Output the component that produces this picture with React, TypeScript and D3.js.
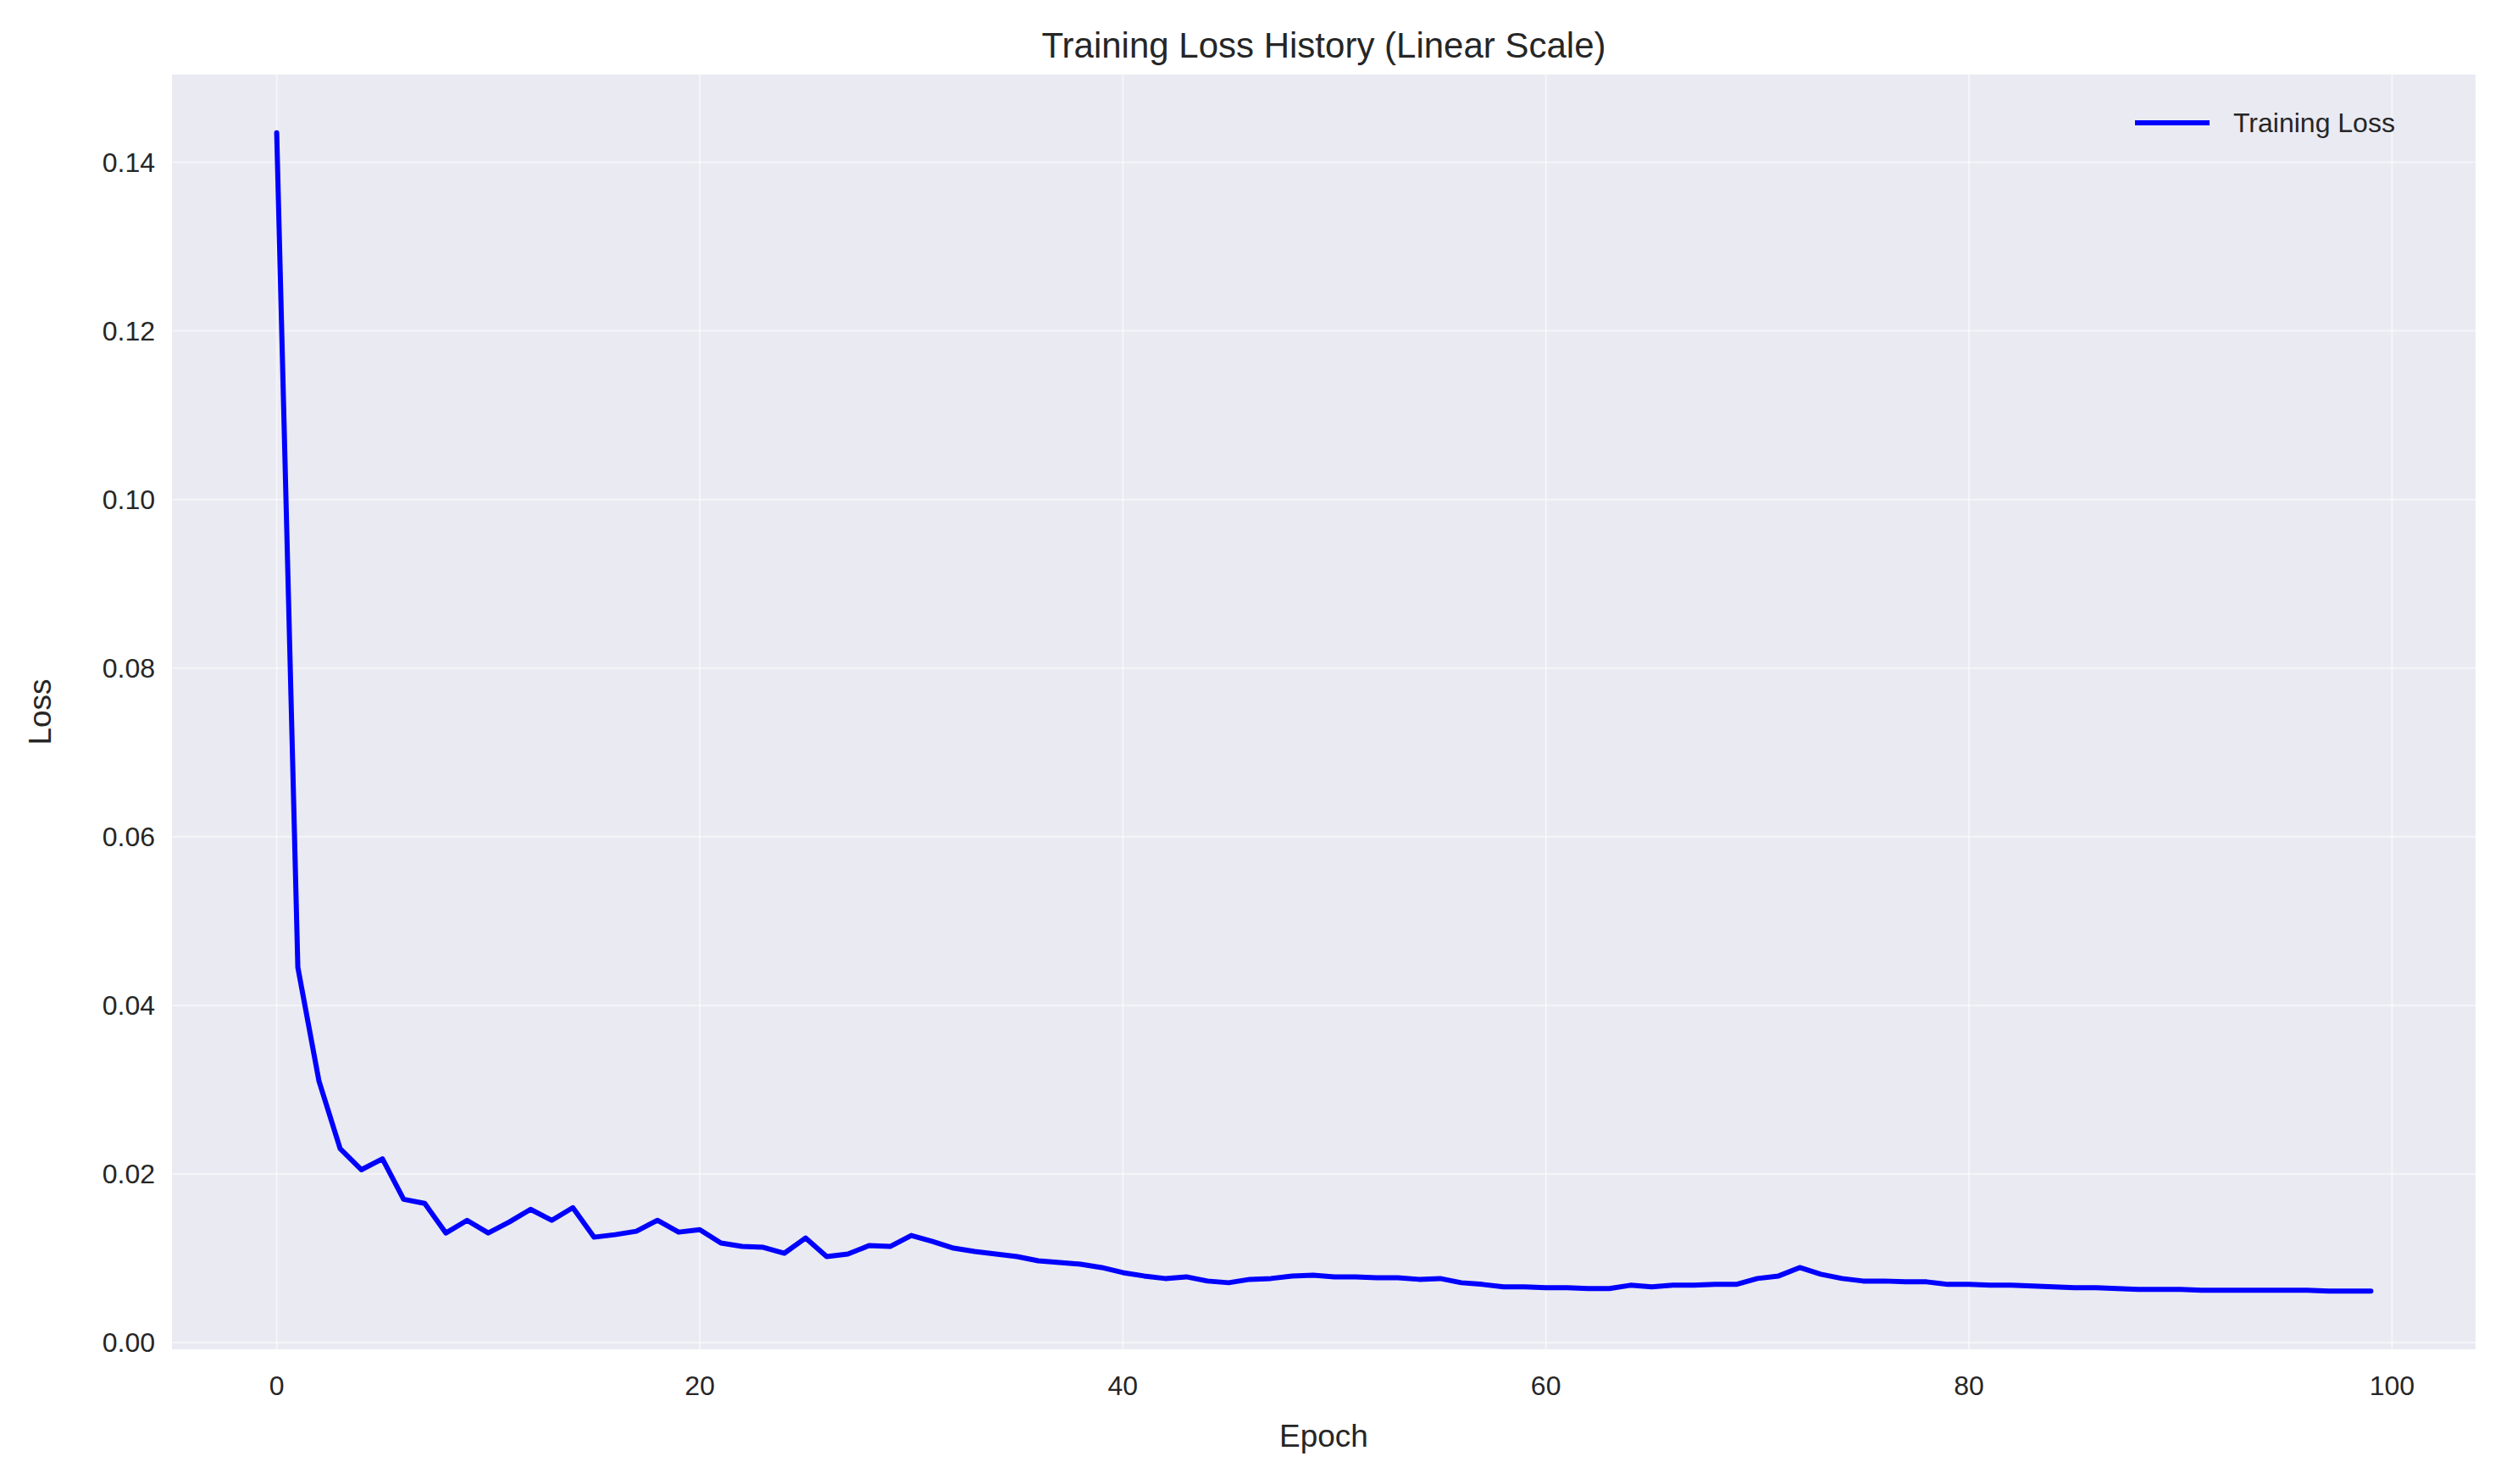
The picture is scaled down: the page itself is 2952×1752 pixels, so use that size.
import React from "react";
import * as d3 from "d3";

const lossValues = [
  0.1435, 0.0445, 0.031, 0.023, 0.0205, 0.0218, 0.017, 0.0165, 0.013, 0.0145,
  0.013, 0.0143, 0.0158, 0.0145, 0.016, 0.0125, 0.0128, 0.0132, 0.0145, 0.0131,
  0.0134, 0.0118, 0.0114, 0.0113, 0.0106, 0.0124, 0.0102, 0.0105, 0.0115, 0.0114,
  0.0127, 0.012, 0.0112, 0.0108, 0.0105, 0.0102, 0.0097, 0.0095, 0.0093, 0.0089,
  0.0083, 0.0079, 0.0076, 0.0078, 0.0073, 0.0071, 0.0075, 0.0076, 0.0079, 0.008,
  0.0078, 0.0078, 0.0077, 0.0077, 0.0075, 0.0076, 0.0071, 0.0069, 0.0066, 0.0066,
  0.0065, 0.0065, 0.0064, 0.0064, 0.0068, 0.0066, 0.0068, 0.0068, 0.0069, 0.0069,
  0.0076, 0.0079, 0.0089, 0.0081, 0.0076, 0.0073, 0.0073, 0.0072, 0.0072, 0.0069,
  0.0069, 0.0068, 0.0068, 0.0067, 0.0066, 0.0065, 0.0065, 0.0064, 0.0063, 0.0063,
  0.0063, 0.0062, 0.0062, 0.0062, 0.0062, 0.0062, 0.0062, 0.0061, 0.0061, 0.0061,
];
const epochs = lossValues.map((_, i) => i);
const xTicks = [0, 20, 40, 60, 80, 100];
const yTicks = [0, 0.02, 0.04, 0.06, 0.08, 0.1, 0.12, 0.14];

const W = 2936;
const H = 1736;
const m = { left: 195, right: 2914, top: 80, bottom: 1585 };
const font = "'Liberation Sans', Arial, sans-serif";

export default function App() {
  const x = d3.scaleLinear().domain([-4.95, 103.95]).range([m.left, m.right]);
  const y = d3.scaleLinear().domain([-0.0008, 0.1504]).range([m.bottom, m.top]);
  const line = d3
    .line<number>()
    .x((_, i) => x(epochs[i]))
    .y((d) => y(d));

  return (
    <svg width={W} height={H} style={{ display: "block", background: "#fff" }} fontFamily={font}>
      <rect x={m.left} y={m.top} width={m.right - m.left} height={m.bottom - m.top} fill="#eaeaf2" />
      {xTicks.map((t) => (
        <g key={"x" + t}>
          <line x1={x(t)} x2={x(t)} y1={m.top} y2={m.bottom} stroke="#fff" strokeOpacity={0.5} strokeWidth={2} />
          <text x={x(t)} y={m.bottom + 54} textAnchor="middle" fontSize={32} fill="#262626">
            {t}
          </text>
        </g>
      ))}
      {yTicks.map((t) => (
        <g key={"y" + t}>
          <line x1={m.left} x2={m.right} y1={y(t)} y2={y(t)} stroke="#fff" strokeOpacity={0.5} strokeWidth={2} />
          <text x={m.left - 20} y={y(t) + 11} textAnchor="end" fontSize={32} fill="#262626">
            {t.toFixed(2)}
          </text>
        </g>
      ))}
      <path d={line(lossValues) ?? ""} fill="none" stroke="#0000ff" strokeWidth={6} strokeLinejoin="round" strokeLinecap="round" />
      <text x={(m.left + m.right) / 2} y={60} textAnchor="middle" fontSize={42} fill="#262626">
        Training Loss History (Linear Scale)
      </text>
      <text x={(m.left + m.right) / 2} y={1700} textAnchor="middle" fontSize={37} fill="#262626">
        Epoch
      </text>
      <text transform={`translate(52,${(m.top + m.bottom) / 2}) rotate(-90)`} textAnchor="middle" fontSize={37} fill="#262626">
        Loss
      </text>
      <line x1={2512} x2={2600} y1={137} y2={137} stroke="#0000ff" strokeWidth={6} />
      <text x={2628} y={148} fontSize={32} fill="#262626">
        Training Loss
      </text>
    </svg>
  );
}
